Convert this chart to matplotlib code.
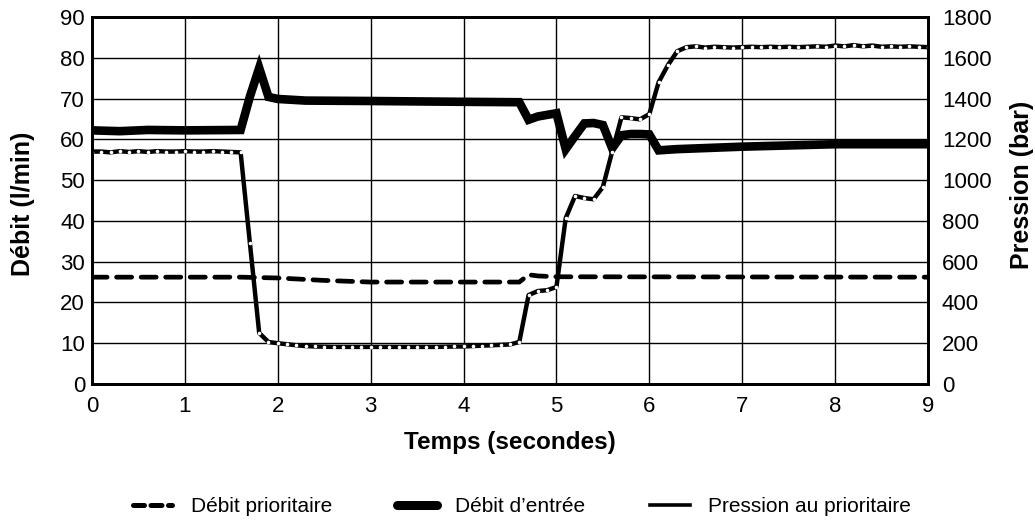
import matplotlib.pyplot as plt
from matplotlib.lines import Line2D
import numpy as np

plt.rcParams['font.family'] = ['Liberation Sans', 'DejaVu Sans']

# Débit prioritaire (l/min)
t_prio = [0, 1.6, 2.0, 2.5, 3.0, 4.6, 4.7, 4.8, 5.0, 9.0]
debit_prio = [26.2, 26.2, 26.0, 25.4, 25.0, 25.0, 26.8, 26.5, 26.3, 26.2]

# Débit d'entrée (l/min)
t_entree = [0, 0.3, 0.6, 1.0, 1.6, 1.7, 1.8, 1.9, 2.0, 2.3, 3.0, 4.0, 4.6, 4.7, 4.8,
            5.0, 5.1, 5.2, 5.3, 5.4, 5.5, 5.6, 5.7, 5.8, 5.9, 6.0, 6.1, 6.3, 7.0, 8.0, 9.0]
debit_entree = [62.2, 62.0, 62.3, 62.2, 62.3, 70.5, 77.5, 70.4, 69.9, 69.5, 69.4, 69.2, 69.1, 64.8, 65.6,
                66.4, 57.6, 60.8, 63.9, 64.0, 63.5, 57.8, 61.0, 61.3, 61.3, 61.2, 57.3, 57.6, 58.2, 58.8, 58.8]

# Pression au prioritaire (bar), une mesure tous les 0.1 s
t_pression = np.round(np.arange(0, 9.01, 0.1), 1)
pression = [
    1140, 1140, 1136, 1142, 1138, 1142, 1138, 1142, 1140, 1140,  # 0.0 - 0.9
    1142, 1140, 1140, 1142, 1140, 1138, 1136, 690, 250, 206,     # 1.0 - 1.9
    200, 195, 190, 186, 184, 183, 182, 182, 182, 182,            # 2.0 - 2.9
    182, 182, 182, 182, 182, 182, 182, 182, 183, 184,            # 3.0 - 3.9
    184, 186, 188, 190, 192, 194, 206, 436, 456, 460,            # 4.0 - 4.9
    476, 814, 922, 912, 906, 966, 1140, 1308, 1304, 1298,        # 5.0 - 5.9
    1324, 1480, 1564, 1632, 1652, 1656, 1650, 1654, 1652, 1650,  # 6.0 - 6.9
    1652, 1654, 1652, 1654, 1652, 1654, 1652, 1654, 1656, 1654,  # 7.0 - 7.9
    1660, 1656, 1662, 1656, 1660, 1654, 1656, 1654, 1656, 1654,  # 8.0 - 8.9
    1652]                                                        # 9.0

fig = plt.figure(figsize=(10.35, 5.24), dpi=100)
ax = fig.add_axes([92 / 1035, 1 - 384 / 524, 836 / 1035, 367 / 524])
ax2 = ax.twinx()

ax.plot(t_prio, debit_prio, color='black', lw=3.4, ls=(0, (3.2, 2.0)), dash_capstyle='round')
ax.plot(t_entree, debit_entree, color='black', lw=6.2, solid_joinstyle='miter', solid_capstyle='butt')
ax2.plot(t_pression, pression, color='black', lw=3.2, marker='o', ms=2.6,
         mfc='white', mec='white', mew=0)

ax.set_xlim(0, 9)
ax.set_ylim(0, 90)
ax2.set_ylim(0, 1800)
ax.set_xticks(range(0, 10))
ax.set_yticks(range(0, 91, 10))
ax2.set_yticks(range(0, 1801, 200))
ax.grid(True, color='black', lw=1.0)

for a in (ax, ax2):
    for s in a.spines.values():
        s.set_linewidth(2)
    a.tick_params(length=0, labelsize=16, colors='black')
ax.tick_params(axis='x', pad=9)
ax.tick_params(axis='y', pad=5)
ax2.tick_params(axis='y', pad=10)

ax.set_xlabel('Temps (secondes)', fontsize=17.5, fontweight='bold')
ax.set_ylabel('Débit (l/min)', fontsize=18, fontweight='bold')
ax2.set_ylabel('Pression (bar)', fontsize=18, fontweight='bold', rotation=90)
ax.xaxis.set_label_coords(510 / 1035, 1 - 431 / 524, transform=fig.transFigure)
ax.yaxis.set_label_coords(35 / 1035, 1 - 204 / 524, transform=fig.transFigure)
ax2.yaxis.set_label_coords(1010 / 1035, 1 - 185 / 524, transform=fig.transFigure)

handles = [
    Line2D([], [], color='black', lw=3.6, ls=(0, (2.2, 1.3)), dash_capstyle='round'),
    Line2D([], [], color='black', lw=6.5, solid_capstyle='round'),
    Line2D([], [], color='black', lw=2.6),
]
labels = ['Débit prioritaire', 'Débit d\u2019entrée', 'Pression au prioritaire']
fig.legend(handles, labels, loc='center', bbox_to_anchor=(522 / 1035, 1 - 507 / 524), ncol=3,
           frameon=False, fontsize=15, handlelength=1.9, columnspacing=3.1, handletextpad=0.9)

fig.savefig('out.png', dpi=100)
